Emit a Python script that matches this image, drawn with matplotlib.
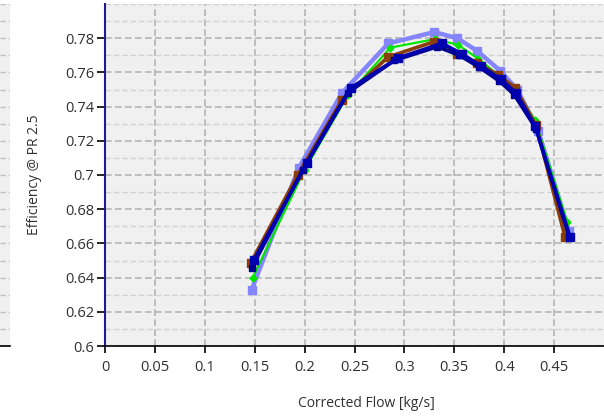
import numpy as np
import matplotlib.pyplot as plt
from matplotlib.ticker import MultipleLocator

plt.rcParams["font.family"] = ["Open Sans", "DejaVu Sans"]

# efficiency at PR 2.5 vs corrected flow
flow_lb = [0.147, 0.194, 0.2375, 0.284, 0.330, 0.353, 0.373, 0.396, 0.413, 0.434, 0.465]
eff_lb = [0.633, 0.704, 0.748, 0.777, 0.7836, 0.780, 0.7725, 0.761, 0.750, 0.726, 0.667]

flow_gr = [0.148, 0.200, 0.2435, 0.286, 0.331, 0.354, 0.374, 0.395, 0.411, 0.431, 0.463]
eff_gr = [0.640, 0.703, 0.7468, 0.7745, 0.7795, 0.776, 0.768, 0.758, 0.750, 0.732, 0.6725]

flow_br = [0.146, 0.193, 0.2375, 0.2836, 0.330, 0.353, 0.373, 0.394, 0.411, 0.432, 0.461]
eff_br = [0.6485, 0.700, 0.744, 0.769, 0.778, 0.771, 0.7655, 0.7585, 0.751, 0.729, 0.6637]

flow_db2 = [0.147, 0.198, 0.243, 0.290, 0.333, 0.355, 0.375, 0.395, 0.410, 0.432, 0.465]
eff_db2 = [0.6456, 0.703, 0.748, 0.767, 0.775, 0.770, 0.763, 0.755, 0.747, 0.727, 0.664]

flow_db = [0.149, 0.2024, 0.2465, 0.2936, 0.3377, 0.3577, 0.3768, 0.3968, 0.4118, 0.431, 0.466]
eff_db = [0.650, 0.707, 0.751, 0.7684, 0.777, 0.7708, 0.7637, 0.756, 0.748, 0.7287, 0.6637]

W, H = 604, 419
fig = plt.figure(figsize=(W / 100, H / 100), dpi=100)
fig.patch.set_facecolor("white")

x0, y0, y1 = 105, 346, 4
ax = fig.add_axes([x0 / W, (H - y0) / H, (W - x0) / W, (y0 - y1) / H])
ax.set_facecolor("#f0f0f0")

# bit of the neighbouring panel visible at the left edge
ax2 = fig.add_axes([0, (H - y0) / H, 10 / W, (y0 - y1) / H])
ax2.set_facecolor("#f0f0f0")
ax2.set_ylim(0.6, 0.8)
ax2.set_xlim(0, 1)
ax2.grid(True, axis="y", color="#c0c0c0", linestyle=(0, (4, 2)), linewidth=1.0)
for s in ["top", "right", "left"]:
    ax2.spines[s].set_visible(False)
ax2.spines["bottom"].set_color("black")
ax2.spines["bottom"].set_linewidth(1.2)
ax2.set_xticks([])
ax2.set_yticks(np.arange(0.6, 0.801, 0.01))
ax2.tick_params(left=False, labelleft=False)

ax.plot(flow_lb, eff_lb, color="#8585ff", lw=3.2, marker="s", ms=5.5, zorder=3)
ax.plot(flow_gr, eff_gr, color="#00e600", lw=1.6, marker="D", ms=3.5, zorder=4)
ax.plot(flow_br, eff_br, color="#8a3f0a", lw=2.6, marker="s", ms=5.5, zorder=5)
ax.plot(flow_db2, eff_db2, color="#000090", lw=2.6, marker="s", ms=5, zorder=6)
ax.plot(flow_db, eff_db, color="#0000b0", lw=2.6, marker="s", ms=5.5, zorder=7)

ax.set_xlim(0, 0.5)
ax.set_ylim(0.6, 0.8)
ax.set_xticks(np.arange(0, 0.451, 0.05))
ax.set_xticklabels(["0", "0.05", "0.1", "0.15", "0.2", "0.25", "0.3", "0.35", "0.4", "0.45"])
ax.set_yticks(np.arange(0.6, 0.781, 0.02))
ax.set_yticklabels(["0.6", "0.62", "0.64", "0.66", "0.68", "0.7", "0.72", "0.74", "0.76", "0.78"])
ax.yaxis.set_minor_locator(MultipleLocator(0.01))

ax.grid(True, which="major", color="#b4b4b4", linestyle=(0, (4, 2)), linewidth=1.2)
ax.grid(True, which="minor", axis="y", color="#d2d2d2", linestyle=(0, (4, 2)), linewidth=1.0)
ax.set_axisbelow(True)

for s in ["top", "right"]:
    ax.spines[s].set_visible(False)
ax.spines["left"].set_color("#1c1c90")
ax.spines["left"].set_linewidth(1.5)
ax.spines["bottom"].set_color("black")
ax.spines["bottom"].set_linewidth(1.2)

ax.tick_params(axis="y", which="major", direction="out", length=6, width=1.2,
               color="black", labelsize=10.5, labelcolor="#303030", pad=2)
ax.tick_params(axis="y", which="minor", left=False)
ax.tick_params(axis="x", direction="out", length=5, width=1.2,
               color="black", labelsize=10.5, labelcolor="#303030", pad=5)

ax.set_ylabel("Efficiency @ PR 2.5", fontsize=10, color="#303030")
ax.set_xlabel("Corrected Flow [kg/s]", fontsize=10, color="#303030")
ax.xaxis.set_label_coords((366 - x0) / (W - x0), -(396 - y0) / (y0 - y1))
ax.yaxis.set_label_coords(-(x0 - 42) / (W - x0), (y0 - 175) / (y0 - y1))

fig.savefig("out.png", dpi=100)
